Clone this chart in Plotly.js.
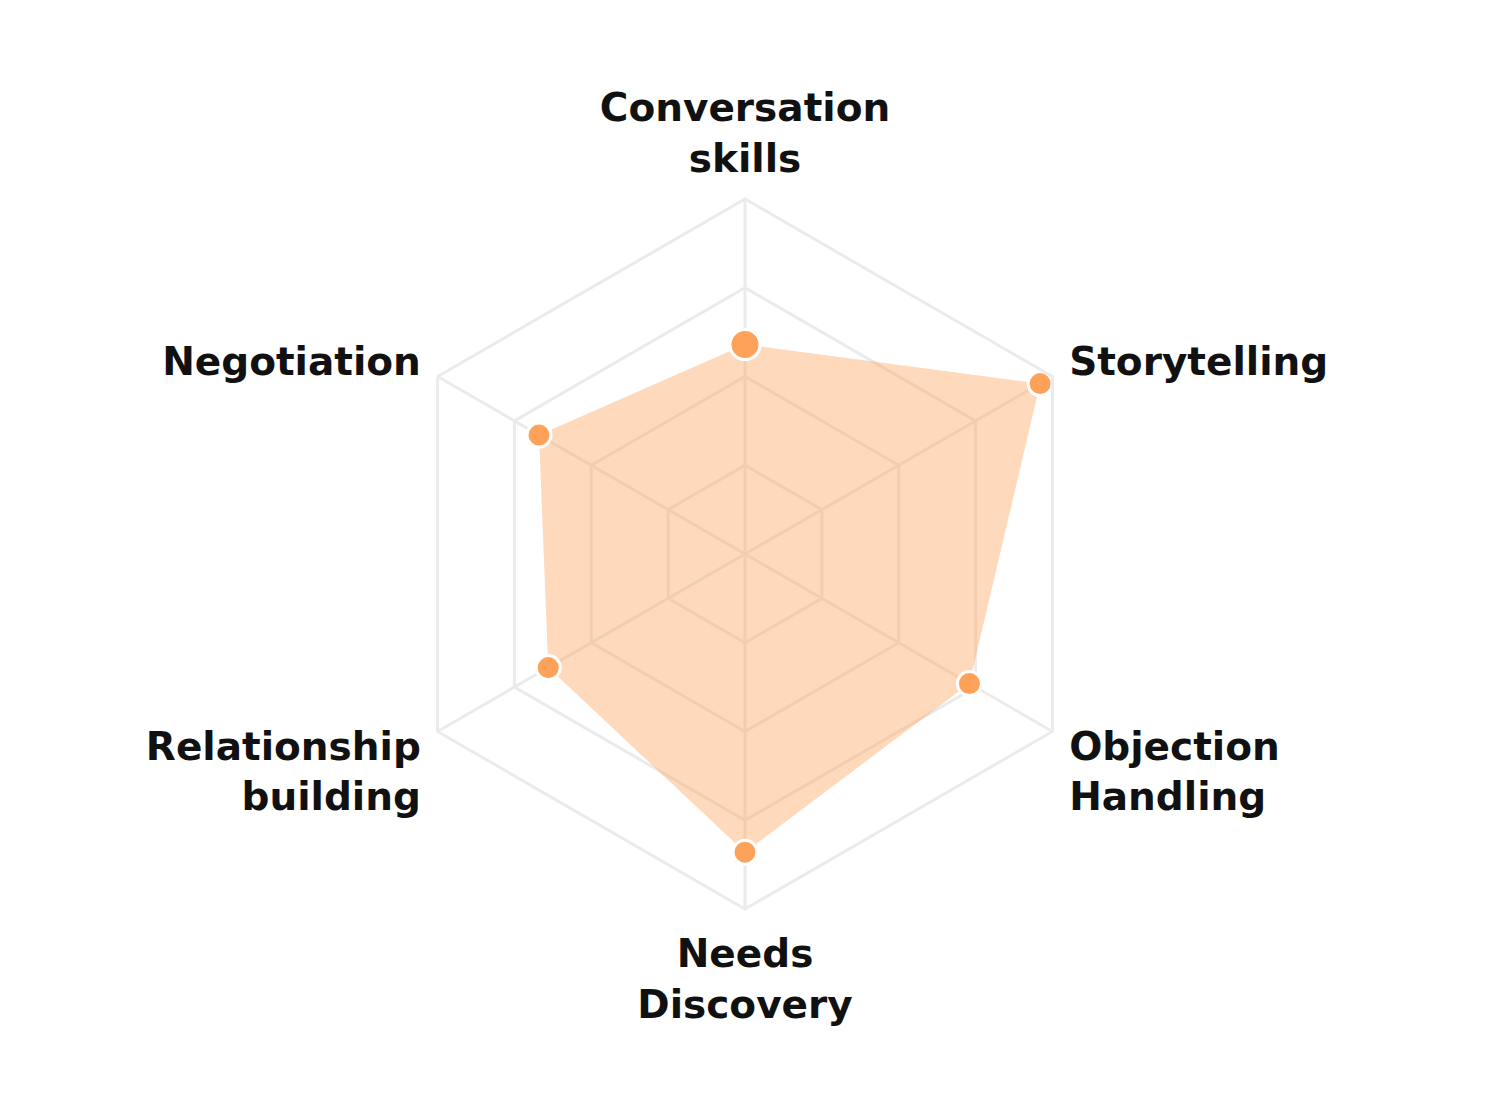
<!DOCTYPE html>
<html>
<head>
<meta charset="utf-8">
<script src="https://cdn.plot.ly/plotly-3.0.1.min.js"></script>
<style>html,body{margin:0;padding:0;background:#fff;}#chart{width:1492px;height:1100px;}</style>
</head>
<body>
<div id="chart"></div>
<script>
const categories = ["Conversation<br>skills", "Storytelling", "Objection<br>Handling", "Needs<br>Discovery", "Relationship<br>building", "Negotiation"];
const scores = [59, 96, 73, 84, 64, 67];
const gridTicks = [0, 25, 50, 75, 100];

const theta = categories.concat([categories[0]]);
const r = scores.concat([scores[0]]);
const sizes = r.map((v, i) => (i === 0 || i === r.length - 1) ? 30 : 24);

const trace = {
  type: "scatterpolar",
  r: r,
  theta: theta,
  mode: "markers",
  fill: "toself",
  fillcolor: "rgba(252,165,92,0.42)",
  line: {width: 0, color: "rgba(0,0,0,0)"},
  marker: {size: sizes, color: "#FDA258", opacity: 1, line: {color: "#ffffff", width: 3}},
  hoverinfo: "skip"
};

const layout = {
  width: 1492,
  height: 1100,
  margin: {l: 390, r: 392, t: 199, b: 191},
  paper_bgcolor: "#ffffff",
  showlegend: false,
  font: {family: "'DejaVu Sans', sans-serif", color: "#111111"},
  polar: {
    bgcolor: "rgba(0,0,0,0)",
    gridshape: "linear",
    radialaxis: {
      range: [0, 100],
      tickvals: gridTicks,
      showticklabels: false,
      ticks: "",
      showline: false,
      gridcolor: "#ebebeb",
      gridwidth: 3
    },
    angularaxis: {
      rotation: 90,
      direction: "clockwise",
      ticks: "outside",
      ticklen: 10,
      tickcolor: "rgba(0,0,0,0)",
      showline: true,
      linecolor: "#ebebeb",
      linewidth: 3,
      gridcolor: "#ebebeb",
      gridwidth: 3,
      tickfont: {size: 39, family: "'DejaVu Sans', sans-serif", weight: "bold", color: "#111111"}
    }
  }
};

Plotly.newPlot("chart", [trace], layout, {displayModeBar: false, staticPlot: true});
</script>
</body>
</html>
